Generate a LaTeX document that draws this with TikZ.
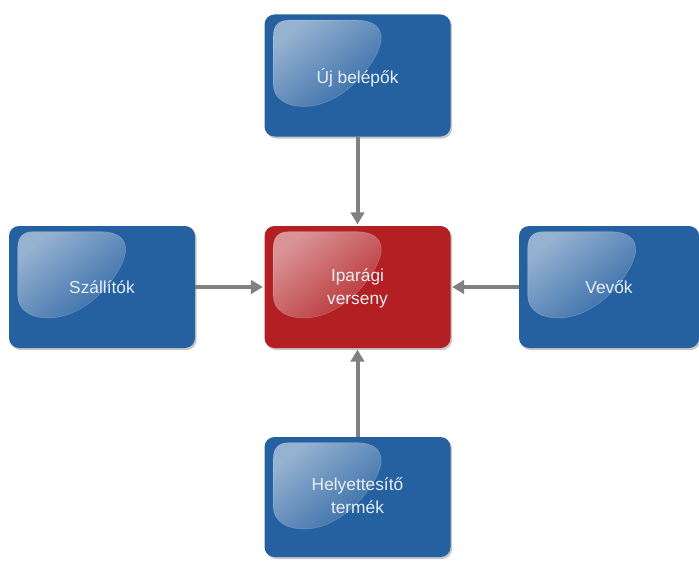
\documentclass[tikz,border=0pt]{standalone}
\usepackage{fontspec}
\setmainfont{Liberation Sans}
\usetikzlibrary{arrows.meta,shadows,fadings}

\definecolor{boxblue}{RGB}{37,96,160}
\definecolor{boxred}{RGB}{178,32,36}
\definecolor{linkgray}{RGB}{128,128,128}
\definecolor{labeltext}{RGB}{232,238,245}

\tikzfading[name=glossfade, top color=transparent!48, bottom color=transparent!93]

\tikzset{
  force/.style={
    rectangle, rounded corners=7.5pt, draw=none,
    minimum width=139.5pt, minimum height=91.5pt,
    drop shadow={shadow xshift=1.2pt, shadow yshift=-1.5pt, opacity=0.22, fill=black}
  },
  bluebox/.style={force, fill=boxblue},
  redbox/.style={force, fill=boxred},
  label/.style={text=labeltext, align=center,
    font=\fontsize{13pt}{17pt}\selectfont},
  link/.style={draw=linkgray, line width=3pt,
    -{Triangle[length=9pt,width=10pt]}, shorten >=1pt}
}

% glossy highlight in the upper left part of a box
\newcommand{\glossat}[1]{%
  \begin{scope}[shift={(#1.north west)}]
    \fill[white, path fading=glossfade, fading angle=45]
      (9,22) .. controls (9,12) and (14,6) .. (24,6) -- (92,6)
      .. controls (108,6) and (117,12) .. (117,24)
      .. controls (117,42) and (85,88) .. (45,92)
      .. controls (22,94) and (9,84) .. (9,70) -- cycle;
    \draw[white, opacity=0.18, line width=0.5pt]
      (9,22) .. controls (9,12) and (14,6) .. (24,6) -- (92,6)
      .. controls (108,6) and (117,12) .. (117,24)
      .. controls (117,42) and (85,88) .. (45,92)
      .. controls (22,94) and (9,84) .. (9,70) -- cycle;
  \end{scope}}

\begin{document}
\begin{tikzpicture}[x=0.75pt,y=-0.75pt]
  \fill[white] (0,0) rectangle (699,560);
  \useasboundingbox (0,0) rectangle (699,560);

  % boxes (drawn before the labels, so the gloss sits below the text)
  \node[bluebox] (entrants) at (357.5,75.5) {};
  \node[redbox]  (rivalry)  at (357.5,287) {};
  \node[bluebox] (suppliers) at (102,287) {};
  \node[bluebox, minimum width=135pt] (buyers) at (609,287) {};
  \node[bluebox, minimum height=90pt] (substitutes) at (357.5,497) {};

  \glossat{entrants}
  \glossat{rivalry}
  \glossat{suppliers}
  \glossat{buyers}
  \glossat{substitutes}

  % labels
  \node[label] (entrantstext) at ([yshift=-2pt]entrants.center) {Új belépők};
  \node[label] (rivalrytext) at ([yshift=-1pt]rivalry.center) {Iparági\\verseny};
  \node[label] (supplierstext) at (suppliers.center) {Szállítók};
  \node[label] (buyerstext) at (buyers.center) {Vevők};
  \node[label] (substitutestext) at ([yshift=1pt]substitutes.center) {Helyettesítő\\termék};

  % forces acting on the industry
  \draw[link] (entrants.south) -- (rivalry.north);
  \draw[link] (suppliers.east) -- (rivalry.west);
  \draw[link] (buyers.west) -- (rivalry.east);
  \draw[link] (substitutes.north) -- (rivalry.south);
\end{tikzpicture}
\end{document}
